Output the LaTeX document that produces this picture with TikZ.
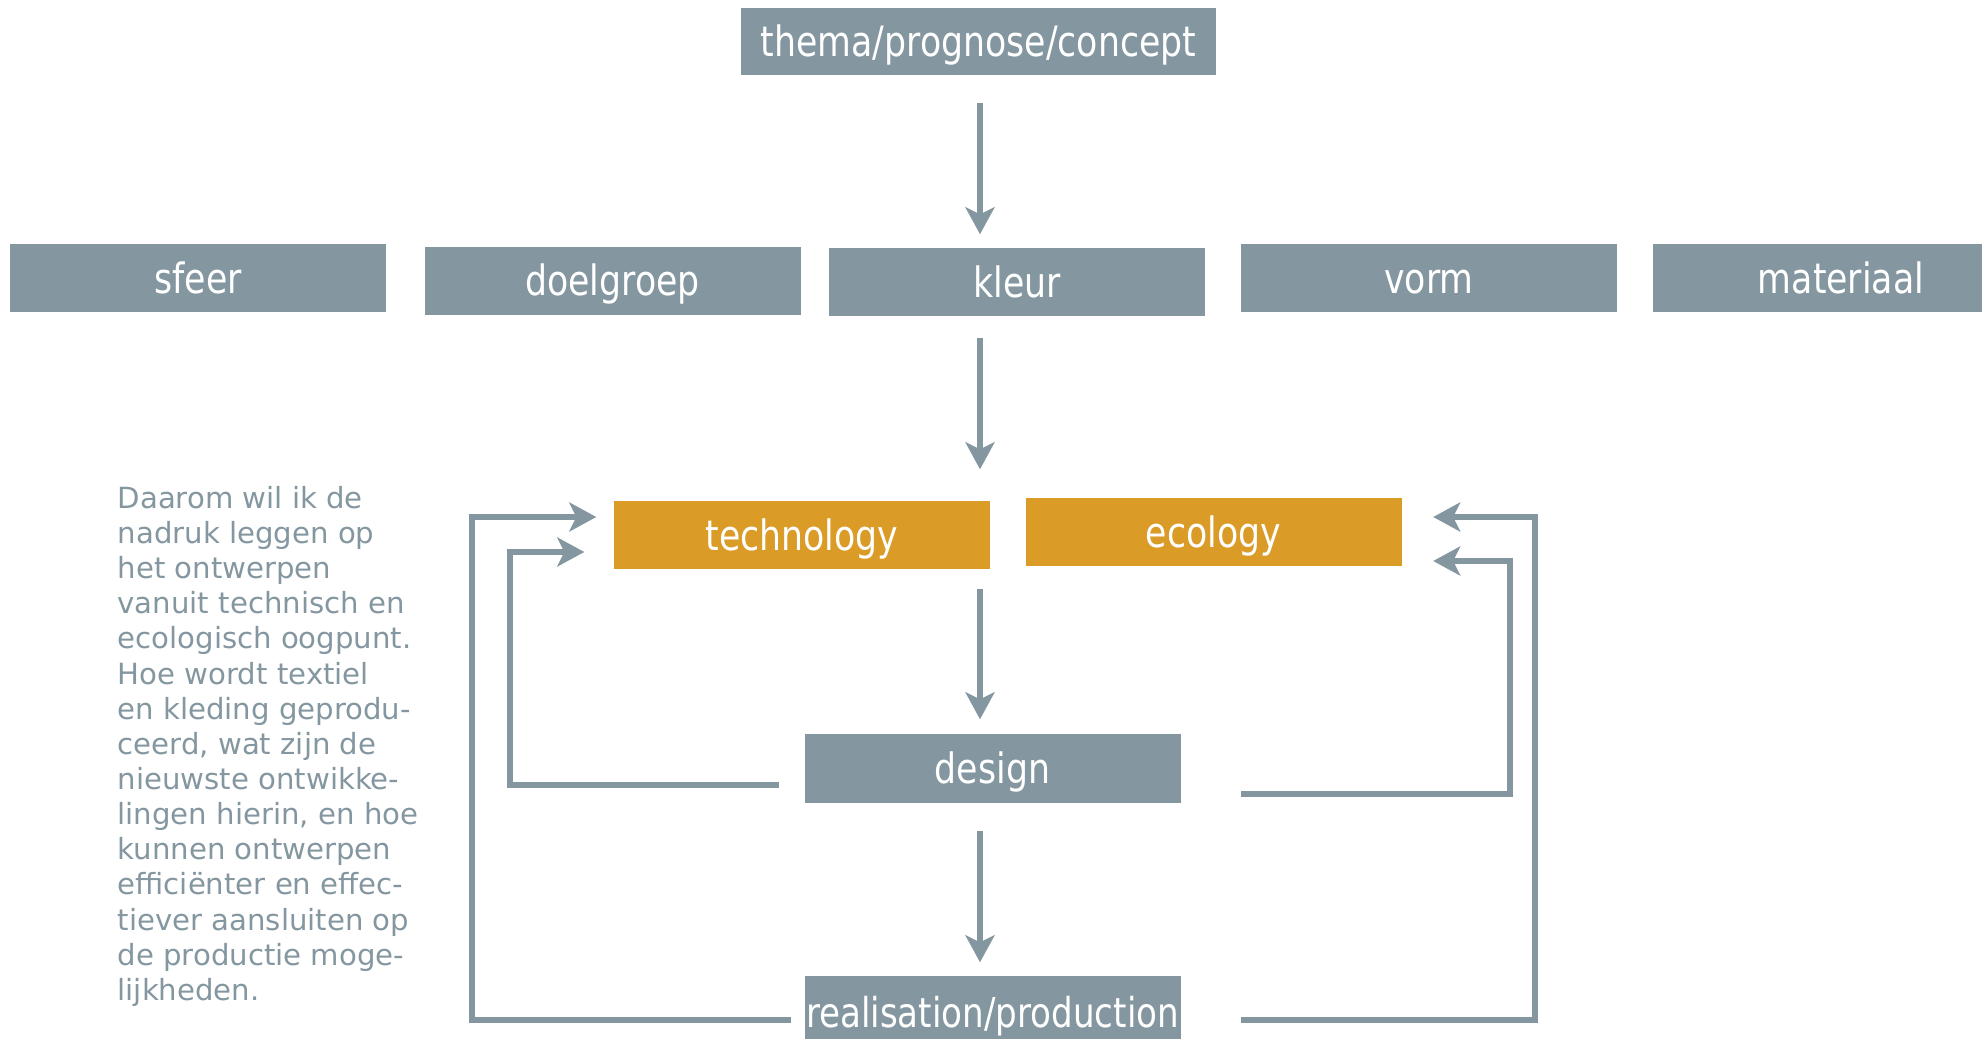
\documentclass[tikz,border=0pt]{standalone}
\usepackage{fontspec}
\usepackage{tikz}
\usetikzlibrary{arrows.meta,positioning}
\usepackage{xcolor}
\definecolor{boxgrey}{RGB}{132,151,160}
\definecolor{boxorange}{RGB}{218,155,39}
\newfontfamily\boxfont[FakeStretch=0.83]{DejaVu Sans}
\newfontfamily\notefont{DejaVu Sans}

\begin{document}
\begin{tikzpicture}[
	greybox/.style={rectangle,fill=boxgrey,text=white,minimum width=3.76cm,minimum height=0.68cm,inner sep=0pt,text height=9.2pt,text depth=0.4pt,font=\boxfont\fontsize{11.9}{13}\selectfont},
	orangebox/.style={greybox,fill=boxorange},
	flow/.style={draw=boxgrey,line width=1.6pt,-{Stealth[length=0.27cm,width=0.29cm,inset=0.07cm]}}
	]
		\def\ax{9.80}
		\def\lo{4.72}
		\def\li{5.10}
		\def\ri{15.10}
		\def\ro{15.35}
		\useasboundingbox (0,0) rectangle (19.82,-10.39);
		% top
		\node[greybox,minimum width=4.75cm,minimum height=0.67cm] (thema) at (9.785,-0.415) {thema/prognose/concept};
		% second row
		\node[greybox] (sfeer) at (1.98,-2.78) {sfeer};
		\node[greybox] (doelgroep) at (6.125,-2.805) {doelgroep};
		\node[greybox] (kleur) at (10.17,-2.82) {kleur};
		\node[greybox] (vorm) at (14.29,-2.78) {vorm};
		\node[greybox] (materiaal) at (18.41,-2.78) {materiaal};
		% tech / eco
		\node[orangebox] (tech) at (8.02,-5.35) {technology};
		\node[orangebox] (eco) at (12.135,-5.32) {ecology};
		% bottom
		\node[greybox,minimum height=0.69cm] (design) at (9.925,-7.685) {design};
		\node[greybox,minimum height=0.72cm,font=\boxfont\fontsize{11.7}{13}\selectfont] (real) at (9.925,-10.12) {realisation/production};
		% text left
		\node[anchor=north west,inner sep=0pt,align=left,text=boxgrey,font=\notefont\fontsize{8.3}{10}\selectfont] (note) at (1.17,-4.855) {Daarom wil ik de\\ nadruk leggen op\\ het ontwerpen\\ vanuit technisch en\\ ecologisch oogpunt.\\ Hoe wordt textiel\\ en kleding geprodu-\\ ceerd, wat zijn de\\ nieuwste ontwikke-\\ lingen hierin, en hoe\\ kunnen ontwerpen\\ efficiënter en effec-\\ tiever aansluiten op\\ de productie moge-\\ lijkheden.};
		% main flow
		\coordinate (ax) at (\ax,0);
		\draw[flow,shorten <=0.27cm,shorten >=0.13cm] (thema.south -| ax) -- (kleur.north -| ax);
		\draw[flow,shorten <=0.21cm,shorten >=0.31cm] (kleur.south -| ax) -- (tech.north -| ax);
		\draw[flow,shorten <=0.19cm,shorten >=0.14cm] (tech.south -| ax) -- (design.north -| ax);
		\draw[flow,shorten <=0.27cm,shorten >=0.13cm] (design.south -| ax) -- (real.north -| ax);
		% feedback loops
		\coordinate (lo) at (\lo,0);
		\coordinate (li) at (\li,0);
		\coordinate (ri) at (\ri,0);
		\coordinate (ro) at (\ro,0);
		\coordinate (lostart) at ([xshift=-0.13cm,yshift=-0.08cm]real.west);
		\coordinate (listart) at ([xshift=-0.25cm,yshift=-0.165cm]design.west);
		\coordinate (ristart) at ([xshift=0.60cm,yshift=-0.255cm]design.east);
		\coordinate (rostart) at ([xshift=0.60cm,yshift=-0.08cm]real.east);
		\coordinate (lotip) at ([xshift=-0.17cm,yshift=0.18cm]tech.west);
		\coordinate (litip) at ([xshift=-0.29cm,yshift=-0.17cm]tech.west);
		\coordinate (ritip) at ([xshift=0.31cm,yshift=-0.29cm]eco.east);
		\coordinate (rotip) at ([xshift=0.31cm,yshift=0.15cm]eco.east);
		\draw[flow] (lostart) -| (lo |- lotip) -- (lotip);
		\draw[flow] (listart) -| (li |- litip) -- (litip);
		\draw[flow] (ristart) -| (ri |- ritip) -- (ritip);
		\draw[flow] (rostart) -| (ro |- rotip) -- (rotip);
		%\draw[thin,red] (0,0) grid (19,-10);
\end{tikzpicture}
\end{document}
